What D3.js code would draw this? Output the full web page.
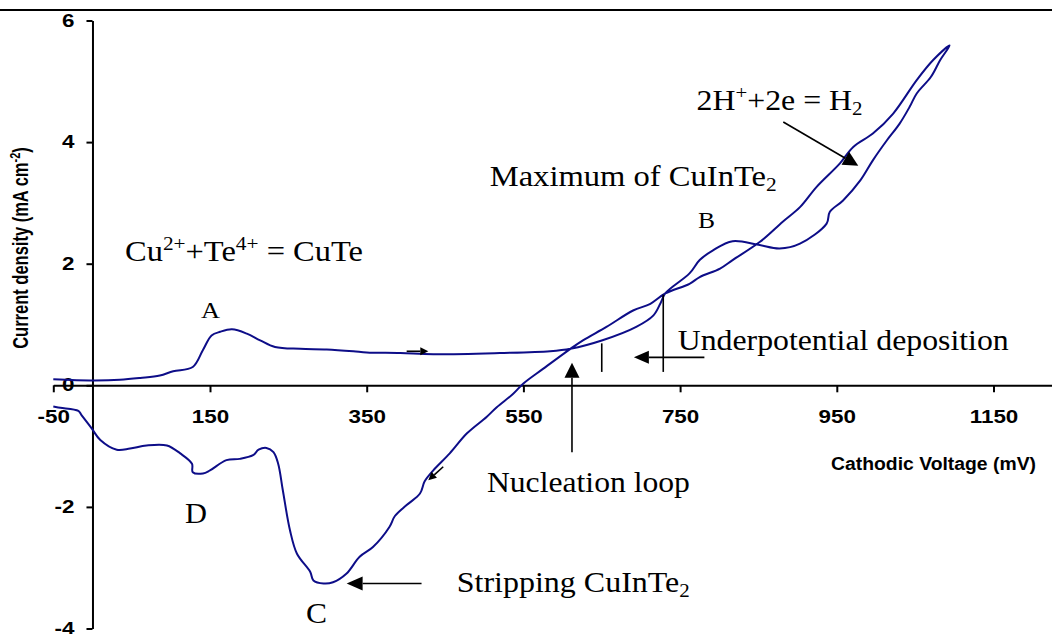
<!DOCTYPE html>
<html>
<head>
<meta charset="utf-8">
<script src="https://d3js.org/d3.v7.min.js"></script>
<style>
  body { margin: 0; background: #fff; }
  svg { display: block; }
  .serif { font-family: "Liberation Serif", "Times New Roman", serif; fill: #000; }
  .sans { font-family: "Liberation Sans", Arial, sans-serif; font-weight: bold; fill: #000; }
  .axis path, .axis line { stroke: #000; stroke-width: 2; }
  .axis text { font-family: "Liberation Sans", Arial, sans-serif; font-weight: bold; fill: #000; }
</style>
</head>
<body>
<div class="chart"></div>
<script>
// ---- data (mV, mA cm-2) ----
var forwardScan = [[-50,0.10],[0,0.08],[35,0.09],[61,0.12],[86,0.16],[103,0.23],[128,0.30],[141,0.58],
  [152,0.82],[163,0.88],[178,0.92],[197,0.85],[214,0.74],[233,0.63],[265,0.60],[299,0.59],[333,0.56],
  [350,0.54],[393,0.53],[435,0.51],[520,0.53],[584,0.56],[610,0.60],[651,0.74],[694,0.96],[716,1.15],
  [725,1.35],[731,1.51],[762,1.84],[775,2.06],[792,2.22],[817,2.37],[850,2.31],[877,2.25],[903,2.33],
  [937,2.66],[941,2.85],[958,3.04],[980,3.37],[996,3.70],[1014,4.03],[1030,4.30],[1043,4.58],
  [1052,4.80],[1070,5.07],[1082,5.35],[1094,5.59]];
var reverseScan = [[1094,5.59],[1073,5.35],[1052,5.02],[1022,4.47],[996,4.14],[971,3.92],[954,3.65],
  [924,3.26],[903,2.93],[881,2.69],[852,2.36],[817,2.06],[801,1.92],[775,1.78],[762,1.67],[731,1.51],
  [712,1.34],[690,1.23],[656,0.96],[626,0.74],[610,0.60],[575,0.27],[550,0.03],[537,-0.14],[516,-0.36],
  [503,-0.52],[478,-0.79],[456,-1.12],[435,-1.40],[424,-1.58],[418,-1.78],[401,-1.97],[386,-2.15],
  [379,-2.33],[358,-2.66],[341,-2.82],[324,-3.10],[307,-3.24],[295,-3.26],[282,-3.21],[278,-3.07],
  [261,-2.77],[252,-2.38],[243,-1.73],[237,-1.29],[231,-1.10],[222,-1.03],[212,-1.06],[205,-1.15],
  [188,-1.21],[171,-1.23],[150,-1.40],[141,-1.45],[128,-1.43],[127,-1.29],[112,-1.12],[95,-0.99],
  [69,-0.99],[48,-1.04],[31,-1.06],[10,-0.90],[-1,-0.71],[-14,-0.49],[-18,-0.42],[-41,-0.37],[-50,-0.35]];
var xTickValues = [-50, 150, 350, 550, 750, 950, 1150];
var yTickValues = [-4, -2, 0, 2, 4, 6];
var xTitle = "Cathodic Voltage (mV)";
var yTitle = "Current density (mA cm^{-2})";

// ---- annotations (positions in data units) ----
var notes = [
  {t: "Cu^{2+}+Te^{4+} = CuTe", v: 41.5, j: 2.04, fs: 29, w: 238},
  {t: "Maximum of CuInTe_{2}", v: 507, j: 3.27, fs: 29, w: 287},
  {t: "2H^{+}+2e = H_{2}", v: 771, j: 4.52, fs: 29, w: 166},
  {t: "Underpotential deposition", v: 747, j: 0.58, fs: 29, w: 331},
  {t: "Nucleation loop", v: 503.5, j: -1.76, fs: 29, w: 203},
  {t: "Stripping CuInTe_{2}", v: 465, j: -3.40, fs: 29, w: 233},
  {t: "A", v: 138.5, j: 1.10, fs: 24, w: 19},
  {t: "B", v: 773, j: 2.58, fs: 24, w: 17},
  {t: "C", v: 272.5, j: -3.91, fs: 29, w: 21},
  {t: "D", v: 118, j: -2.27, fs: 29, w: 22}
];
// [v1, j1, v2(tip), j2(tip), head length, head half-width]
var arrows = [
  [612, -1.10, 612, 0.37, 15, 7.5],
  [781, 0.46, 691, 0.46, 15, 6.5],
  [881.7, 4.33, 977.4, 3.61, 15, 7.5],
  [420, -3.26, 324.4, -3.26, 16, 7],
  [401, 0.56, 428.6, 0.56, 8, 4],
  [447.7, -1.34, 428.6, -1.56, 8, 4]
];
var guides = [[650, 0.22, 650, 0.69], [728.5, 0.22, 728.5, 1.49]];

var w = 1052, h = 634;
var svg = d3.select(".chart").append("svg").attr("width", w).attr("height", h);

var x = d3.scaleLinear().domain([-50, 1250]).range([53.3, 53.3 + 1300 * 0.7835]);
var y = d3.scaleLinear().domain([-4, 6]).range([628.5, 20.5]);

// top rule
svg.append("line").attr("x1", 0).attr("x2", w).attr("y1", 10).attr("y2", 10)
  .attr("stroke", "#000").attr("stroke-width", 2);

function stretch(sel, k) {
  sel.each(function() {
    var l = this.getComputedTextLength();
    d3.select(this).attr("textLength", l * k).attr("lengthAdjust", "spacingAndGlyphs");
  });
}

var xAxis = svg.append("g").attr("class", "axis")
  .attr("transform", "translate(0," + y(0) + ")")
  .call(d3.axisBottom(x).tickValues(xTickValues).tickSize(7).tickSizeOuter(0).tickPadding(18)
    .tickFormat(function(d) { return String(d); }));
xAxis.selectAll("text").attr("font-size", 17.5);
stretch(xAxis.selectAll("text"), 1.28);

var yAxis = svg.append("g").attr("class", "axis")
  .attr("transform", "translate(" + x(0) + ",0)")
  .call(d3.axisLeft(y).tickValues(yTickValues).tickSize(6).tickSizeOuter(0).tickPadding(12)
    .tickFormat(function(d) { return String(d); }));
yAxis.selectAll("text").attr("font-size", 17.5);
stretch(yAxis.selectAll("text"), 1.28);

function rich(sel, str, fs) {
  var parts = str.split(/(\^\{[^}]*\}|_\{[^}]*\})/);
  var off = 0;
  parts.forEach(function(p) {
    if (!p) return;
    var target = 0, txt = p, small = false;
    if (p[0] === "^") { target = -0.38 * fs; txt = p.slice(2, -1); small = true; }
    else if (p[0] === "_") { target = 0.16 * fs; txt = p.slice(2, -1); small = true; }
    var ts = sel.append("tspan").attr("dy", target - off).text(txt);
    if (small) ts.attr("font-size", Math.round(fs * 0.66));
    off = target;
  });
}

// curve
var line = d3.line().x(function(d) { return x(d[0]); }).y(function(d) { return y(d[1]); })
  .curve(d3.curveCatmullRom.alpha(0.5));
svg.append("path").datum(forwardScan.concat(reverseScan.slice(1)))
  .attr("d", line).attr("fill", "none").attr("stroke", "#0d0d88").attr("stroke-width", 2);

// guide lines and arrows
guides.forEach(function(g) {
  svg.append("line").attr("x1", x(g[0])).attr("y1", y(g[1])).attr("x2", x(g[2])).attr("y2", y(g[3]))
    .attr("stroke", "#000").attr("stroke-width", 1.6);
});
arrows.forEach(function(a) {
  var x1 = x(a[0]), y1 = y(a[1]), x2 = x(a[2]), y2 = y(a[3]);
  var dx = x2 - x1, dy = y2 - y1, d = Math.sqrt(dx * dx + dy * dy), ux = dx / d, uy = dy / d;
  var bx = x2 - ux * a[4], by = y2 - uy * a[4];
  svg.append("line").attr("x1", x1).attr("y1", y1).attr("x2", bx).attr("y2", by)
    .attr("stroke", "#000").attr("stroke-width", 1.6);
  svg.append("path")
    .attr("d", "M" + x2 + "," + y2 + "L" + (bx - uy * a[5]) + "," + (by + ux * a[5]) +
      "L" + (bx + uy * a[5]) + "," + (by - ux * a[5]) + "Z")
    .attr("fill", "#000");
});

// annotation labels
notes.forEach(function(n) {
  var t = svg.append("text").attr("class", "serif").attr("x", x(n.v)).attr("y", y(n.j))
    .attr("font-size", n.fs);
  rich(t, n.t, n.fs);
  t.attr("textLength", n.w).attr("lengthAdjust", "spacingAndGlyphs");
});

// axis titles
svg.append("text").attr("class", "sans").attr("x", 831).attr("y", 470).attr("font-size", 17.5)
  .text(xTitle).attr("textLength", 205).attr("lengthAdjust", "spacingAndGlyphs");

var yt = svg.append("text").attr("class", "sans").attr("font-size", 16.5)
  .attr("text-anchor", "middle")
  .attr("transform", "translate(28,248) scale(1.3,1) rotate(-90)");
rich(yt, yTitle, 16.5);
</script>
</body>
</html>
